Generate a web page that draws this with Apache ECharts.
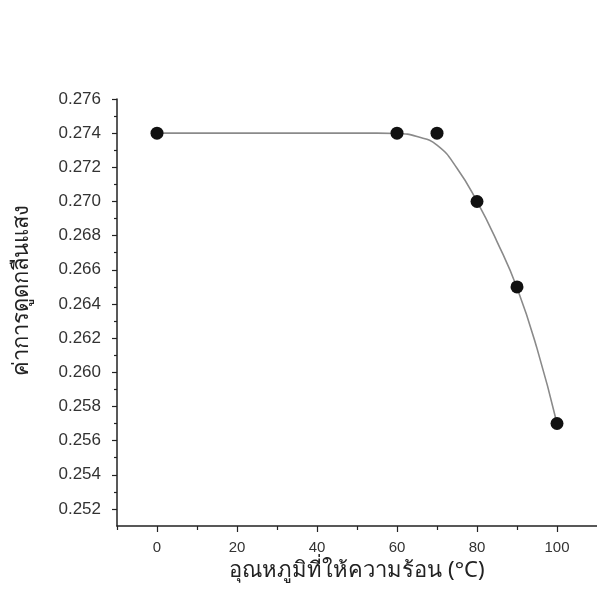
<!DOCTYPE html>
<html><head><meta charset="utf-8">
<script src="https://cdn.jsdelivr.net/npm/echarts@6/dist/echarts.min.js"></script>
<style>html,body{margin:0;padding:0;background:#fff}#c{width:597px;height:594px}</style>
</head><body><div id="c"></div>
<script>
// measured points
const tempX = [0, 60, 70, 80, 90, 100];
const absorb = [0.274, 0.274, 0.274, 0.270, 0.265, 0.257];
// fitted curve
const fitX = [0, 50, 55, 60, 65, 70, 75, 80, 85, 90, 95, 100];
const fitY = [0.274, 0.274, 0.274, 0.27398, 0.27380, 0.27330, 0.27195, 0.27000, 0.26765, 0.26495, 0.26140, 0.25700];
// tick labels
const xLabels = [0, 20, 40, 60, 80, 100];
const xMinor = [-10, 10, 30, 50, 70, 90];
const yLabels = [0.252, 0.254, 0.256, 0.258, 0.260, 0.262, 0.264, 0.266, 0.268, 0.270, 0.272, 0.274, 0.276];
const yMinor = [0.253, 0.255, 0.257, 0.259, 0.261, 0.263, 0.265, 0.267, 0.269, 0.271, 0.273, 0.275];
const xTitle = 'อุณหภูมิที่ให้ความร้อน (°C)';
const yTitle = 'ค่าการดูดกลืนแสง';

const chart = echarts.init(document.getElementById('c'));
const font = 'Liberation Sans, Arial, sans-serif';
const thaiFont = 'Noto Sans, sans-serif';
const axisCol = '#222';
const xCommon = {type: 'value', min: -10, max: 110, splitLine: {show: false}};
const yCommon = {type: 'value', min: 0.251, max: 0.276, splitLine: {show: false}};
chart.setOption({
  animation: false,
  backgroundColor: '#fff',
  grid: {left: 117, top: 99, right: -3, bottom: 68},
  xAxis: [
    Object.assign({}, xCommon, {
      position: 'bottom',
      axisLine: {onZero: false, lineStyle: {color: axisCol, width: 1.5}},
      axisTick: {customValues: xLabels, length: 6, lineStyle: {color: axisCol, width: 1.2}},
      axisLabel: {customValues: xLabels, margin: 14, fontSize: 15, color: '#333', fontFamily: font},
      name: xTitle, nameLocation: 'middle', nameGap: 33,
      nameTextStyle: {fontSize: 22, color: '#222', fontFamily: thaiFont}
    }),
    Object.assign({}, xCommon, {
      position: 'bottom',
      axisLine: {show: false, onZero: false},
      axisTick: {customValues: xMinor, length: 4, lineStyle: {color: axisCol, width: 1.2}},
      axisLabel: {show: false}
    })
  ],
  yAxis: [
    Object.assign({}, yCommon, {
      position: 'left',
      axisLine: {onZero: false, lineStyle: {color: axisCol, width: 1.5}},
      axisTick: {customValues: yLabels, length: 5, lineStyle: {color: axisCol, width: 1.2}},
      axisLabel: {customValues: yLabels, margin: 16, fontSize: 17, color: '#333', fontFamily: font,
        formatter: v => v.toFixed(3)}
    }),
    Object.assign({}, yCommon, {
      position: 'left',
      axisLine: {show: false, onZero: false},
      axisTick: {customValues: yMinor, length: 3, lineStyle: {color: axisCol, width: 1.2}},
      axisLabel: {show: false}
    })
  ],
  graphic: [{
    type: 'text', x: 22, y: 290, rotation: Math.PI / 2,
    style: {text: yTitle, fontSize: 22, fill: '#222', fontFamily: thaiFont, align: 'center', verticalAlign: 'middle'}
  }],
  series: [
    {type: 'line', data: fitX.map((x, i) => [x, fitY[i]]), smooth: 0.5, showSymbol: false,
      lineStyle: {color: '#8a8a8a', width: 1.6}, z: 1},
    {type: 'scatter', data: tempX.map((x, i) => [x, absorb[i]]), symbol: 'circle', symbolSize: 13,
      itemStyle: {color: '#111', opacity: 1}, z: 2}
  ]
});
</script></body></html>
